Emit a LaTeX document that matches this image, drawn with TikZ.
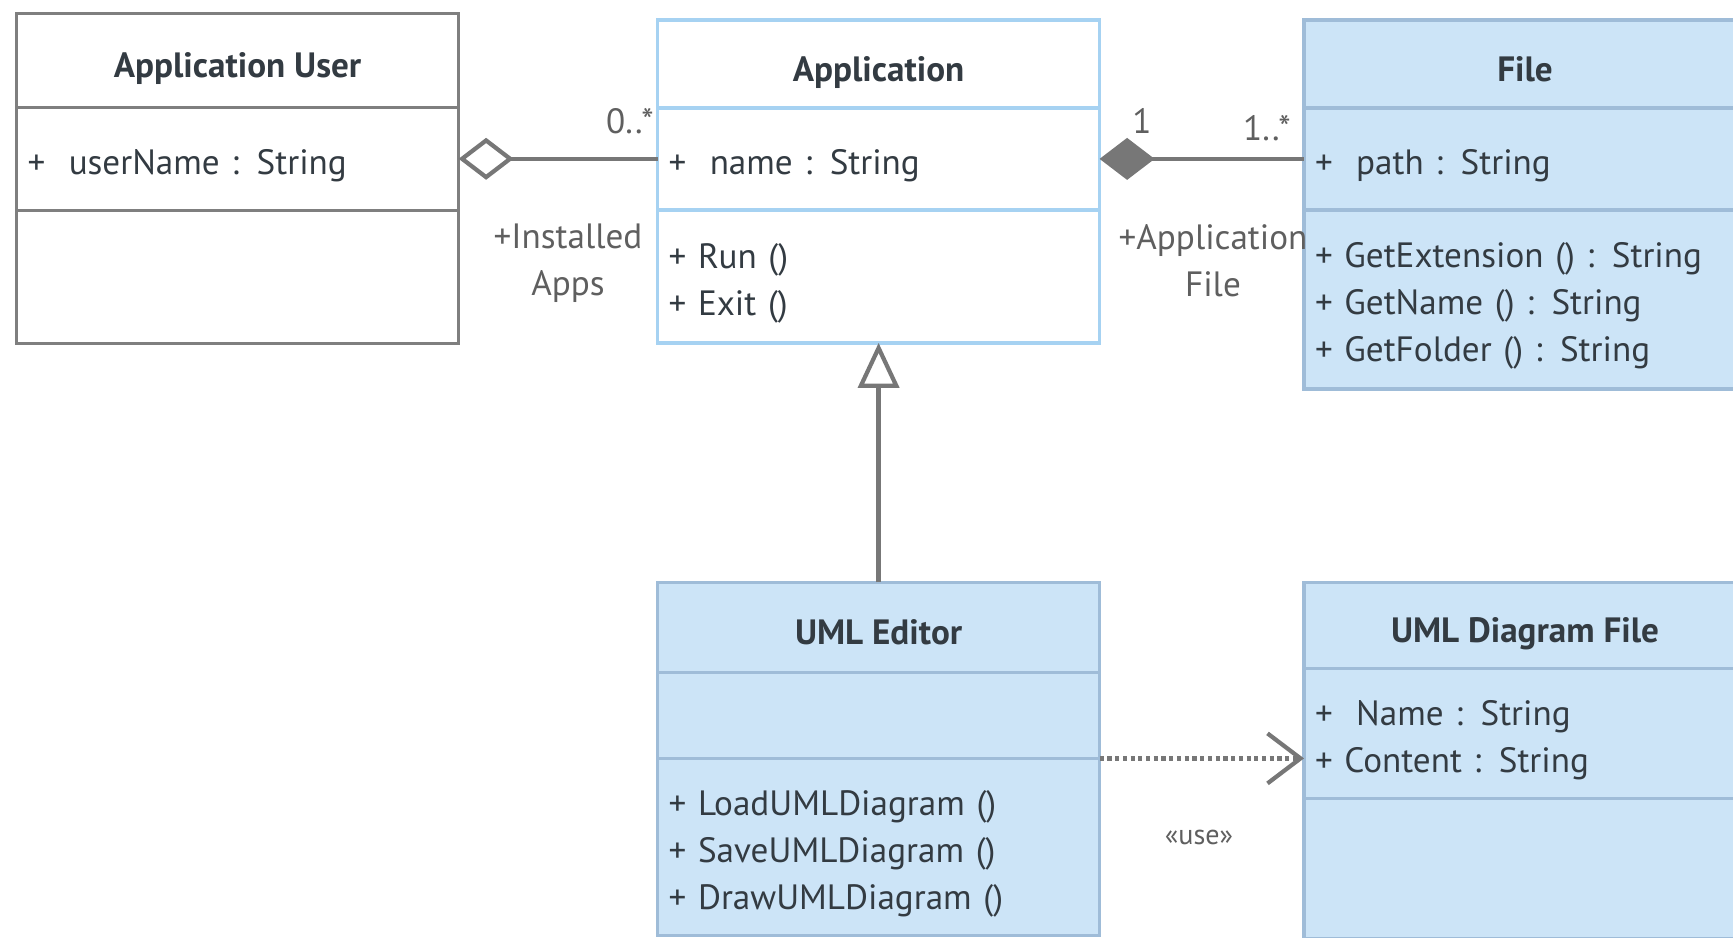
\documentclass[tikz,border=0pt]{standalone}
\usepackage{fontspec}
\setmainfont{PT Sans}
\usepackage{tikz}
\usetikzlibrary{positioning, arrows.meta}
\definecolor{umlblue}{HTML}{CCE4F7}
\definecolor{umledge}{HTML}{9FBCD8}
\definecolor{appedge}{HTML}{A6D2F2}
\definecolor{usergray}{HTML}{7F7F7F}
\definecolor{linkgray}{HTML}{777777}
\definecolor{inkgray}{HTML}{333B42}

\begin{document}
\begin{tikzpicture}[x=0.1mm, y=-0.1mm,
  every node/.style={text=inkgray, font=\fontsize{10}{13.4}\selectfont},
  part/.style={draw, line width=1pt, outer sep=0pt},
  classname/.style={part, anchor=north west, minimum width=44.2mm, inner sep=0pt, text height=10pt, text depth=0pt, font=\fontsize{10}{13.4}\selectfont\bfseries},
  members/.style={part, text width=42mm, inner xsep=1.1mm, inner ysep=0pt, align=left, text height=11pt},
  greybox/.style={draw=usergray, fill=white},
  whitebox/.style={draw=appedge, fill=white},
  bluebox/.style={draw=umledge, fill=umlblue},
  link/.style={draw=linkgray, line width=1.2pt},
  rolelabel/.style={text=linkgray!80!black, align=center}]
  \useasboundingbox (0,0) rectangle (1733,938);

  % Application User
  \node[classname, greybox, minimum height=9.4mm] (usertitle) at (16.6,13.3) {Application User};
  \node[members, greybox, minimum height=10.3mm, below=0pt of usertitle] (userattr) {+\ \ userName : String};
  \node[members, greybox, minimum height=13.3mm, below=0pt of userattr] (userops) {};

  % Application
  \node[classname, whitebox, minimum height=8.8mm] (apptitle) at (657.6,19.9) {Application};
  \node[members, whitebox, minimum height=10.2mm, below=0pt of apptitle] (appattr) {+\ \ name : String};
  \node[members, whitebox, minimum height=13.3mm, below=0pt of appattr] (appops) {+ Run ()\\+ Exit ()};

  % File
  \node[classname, bluebox, minimum height=8.8mm] (filetitle) at (1304,19.9) {File};
  \node[members, bluebox, minimum height=10.2mm, below=0pt of filetitle] (fileattr) {+\ \ path : String};
  \node[members, bluebox, minimum height=17.9mm, below=0pt of fileattr] (fileops) {+ GetExtension () : String\\+ GetName () : String\\+ GetFolder () : String};

  % UML Editor
  \node[classname, bluebox, minimum height=9mm] (edittitle) at (657.6,582.4) {UML Editor};
  \node[members, bluebox, minimum height=8.6mm, below=0pt of edittitle] (editattr) {};
  \node[members, bluebox, minimum height=17.7mm, below=0pt of editattr] (editops) {+ LoadUMLDiagram ()\\+ SaveUMLDiagram ()\\+ DrawUMLDiagram ()};

  % UML Diagram File
  \node[classname, bluebox, minimum height=8.6mm] (diagtitle) at (1304,582.4) {UML Diagram File};
  \node[members, bluebox, minimum height=13mm, below=0pt of diagtitle] (diagattr) {+\ \ Name : String\\+ Content : String};
  \node[members, bluebox, minimum height=14mm, below=0pt of diagattr] (diagops) {};

  % links
  \draw[link, {Diamond[open, fill=white, length=5.5mm, width=4.2mm]}-] (userattr.east) -- (userattr.east -| appattr.west);
  \draw[link, {Diamond[length=5.5mm, width=4.2mm]}-] (appattr.east) -- (appattr.east -| fileattr.west);
  \draw[link, -{Triangle[open, fill=white, length=4.5mm, width=4.1mm]}] (edittitle.north) -- (appops.south);
  \draw[link, densely dotted, -{Straight Barb[length=3.3mm, width=5mm]}] (editops.north east) -- (editops.north east -| diagattr.west);

  % labels
  \node[rolelabel, anchor=east] (usermult) at (666,121) {0..*};
  \node[rolelabel] (userrole) at (568,263) {+Installed\\Apps};
  \node[rolelabel] (appmult) at (1142,121) {1};
  \node[rolelabel, anchor=east] (filemult) at (1303,128) {1..*};
  \node[rolelabel] (filerole) at (1213,261) {+Application\\File};
  \node[rolelabel, font=\fontsize{8}{10}\selectfont] (uselabel) at (1199,837) {«use»};
\end{tikzpicture}
\end{document}
